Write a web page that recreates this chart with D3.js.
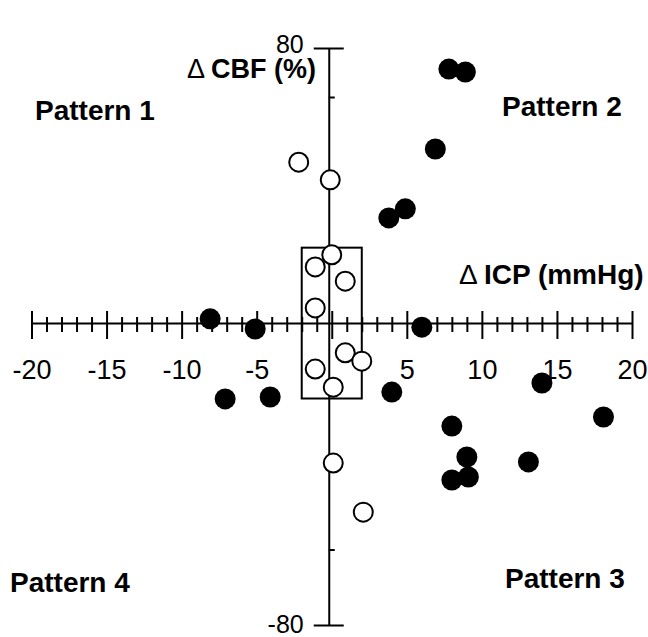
<!DOCTYPE html>
<html>
<head>
<meta charset="utf-8">
<script src="https://cdn.jsdelivr.net/npm/d3@7"></script>
<style>
  body { margin: 0; background: #fff; }
  svg { font-family: "Liberation Sans", Arial, Helvetica, sans-serif; display: block; }
</style>
</head>
<body>
<svg></svg>
<script>
// Canvas size
const width = 648;
const height = 637;

// Filled circles: change in ICP (mmHg) and change in CBF (%)
const filledICP = [7.8, 8.9, 6.9, 3.8, 4.9, -8.1, -5.1, 6.0, -7.1, -4.1, 4.0, 14.0, 18.1, 8.0, 9.0, 9.1, 8.0, 13.1];
const filledCBF = [71.4, 70.2, 46.2, 27.9, 30.3, 1.1, -1.6, -1.1, -20.1, -19.6, -18.3, -15.9, -24.9, -27.3, -35.5, -40.8, -41.6, -36.8];

// Open circles
const openICP = [-2.2, -0.1, 0.0, -1.1, 0.9, -1.1, 0.9, 2.0, -1.1, 0.1, 0.1, 2.1];
const openCBF = [42.7, 38.0, 18.1, 14.9, 11.1, 4.0, -7.9, -10.1, -12.2, -17.0, -37.1, -50.1];

// Axis ticks
const xTicks = d3.range(-20, 21);
const xLabels = [-20, -15, -10, -5, 5, 10, 15, 20];
const yTicks = [-80, -60, 60, 80];
const yLabels = [-80, 80];

// Central box (ICP range, CBF range)
const boxICP = [-2, 2];
const boxCBF = [-20, 20];

const patternNames = ["Pattern 1", "Pattern 2", "Pattern 3", "Pattern 4"];

const svg = d3.select("svg")
    .attr("width", width)
    .attr("height", height);

const xScale = d3.scaleLinear()
                 .domain([-20, 20])
                 .range([31.5, 632]);

// the printed y axis is compressed above +60
const yScale = d3.scaleLinear()
                 .domain([-80, 0, 60, 80])
                 .range([625, 323, 97, 48]);

// X axis through CBF = 0
const xAxis = d3.axisBottom(xScale)
                .tickValues(xTicks)
                .tickSizeOuter(0)
                .tickFormat(d => xLabels.includes(d) ? String(d) : "");

const gx = svg.append("g")
    .attr("transform", `translate(0,${yScale(0)})`)
    .call(xAxis);

gx.select(".domain")
    .attr("stroke", "#000")
    .attr("stroke-width", 2);

gx.selectAll(".tick line")
    .attr("stroke", "#000")
    .attr("stroke-width", 2)
    .attr("y1", d => d % 5 === 0 ? -12 : -6)
    .attr("y2", d => d % 5 === 0 ? 16 : 9);

gx.selectAll(".tick text")
    .attr("y", 56)
    .attr("dy", 0)
    .attr("fill", "#000")
    .style("font-size", "27px");

// Y axis through ICP = 0
const yAxis = d3.axisRight(yScale)
                .tickValues(yTicks)
                .tickSizeOuter(0)
                .tickFormat("");

const gy = svg.append("g")
    .attr("transform", `translate(${xScale(0) - 3},0)`)
    .call(yAxis);

gy.select(".domain")
    .attr("stroke", "#000")
    .attr("stroke-width", 2);

gy.selectAll(".tick line")
    .attr("stroke", "#000")
    .attr("stroke-width", 2)
    .attr("x1", d => Math.abs(d) === 80 ? -15 : 0)
    .attr("x2", d => Math.abs(d) === 80 ? 15 : 6);

gy.selectAll(".ylabel")
  .data(yLabels)
  .enter()
  .append("text")
    .attr("class", "ylabel")
    .attr("x", -25)
    .attr("y", d => yScale(d))
    .attr("dy", d => d > 0 ? "0.2em" : "0.3em")
    .attr("fill", "#000")
    .style("text-anchor", "end")
    .style("font-size", "25px")
    .text(d => String(d));

// Box around the small changes
svg.append("rect")
    .attr("x", xScale(boxICP[0]))
    .attr("y", yScale(boxCBF[1]))
    .attr("width", xScale(boxICP[1]) - xScale(boxICP[0]))
    .attr("height", yScale(boxCBF[0]) - yScale(boxCBF[1]))
    .attr("fill", "none")
    .attr("stroke", "#000")
    .attr("stroke-width", 2);

// Open circles
svg.selectAll(".open")
  .data(d3.zip(openICP, openCBF))
  .enter()
  .append("circle")
    .attr("class", "open")
    .attr("cx", d => xScale(d[0]))
    .attr("cy", d => yScale(d[1]))
    .attr("r", 9.5)
    .attr("fill", "#fff")
    .attr("stroke", "#000")
    .attr("stroke-width", 2);

// Filled circles
svg.selectAll(".filled")
  .data(d3.zip(filledICP, filledCBF))
  .enter()
  .append("circle")
    .attr("class", "filled")
    .attr("cx", d => xScale(d[0]))
    .attr("cy", d => yScale(d[1]))
    .attr("r", 10.5)
    .attr("fill", "#000");

// Axis titles
const yTitle = svg.append("text")
    .attr("x", 316)
    .attr("y", 78)
    .style("text-anchor", "end")
    .style("font-size", "27px")
    .style("font-weight", "bold");
yTitle.append("tspan").style("font-weight", "normal").text("\u0394 ");
yTitle.append("tspan").text("CBF (%)");

const xTitle = svg.append("text")
    .attr("x", 459)
    .attr("y", 284)
    .style("font-size", "28px")
    .style("font-weight", "bold");
xTitle.append("tspan").style("font-weight", "normal").text("\u0394 ");
xTitle.append("tspan").text("ICP (mmHg)");

// Quadrant labels
const patternPos = [[35, 120], [502, 116], [505, 588], [10, 592]];
svg.selectAll(".pattern")
  .data(patternNames)
  .enter()
  .append("text")
    .attr("class", "pattern")
    .attr("x", (d, i) => patternPos[i][0])
    .attr("y", (d, i) => patternPos[i][1])
    .style("font-size", "28px")
    .style("font-weight", "bold")
    .text(d => d);
</script>
</body>
</html>
